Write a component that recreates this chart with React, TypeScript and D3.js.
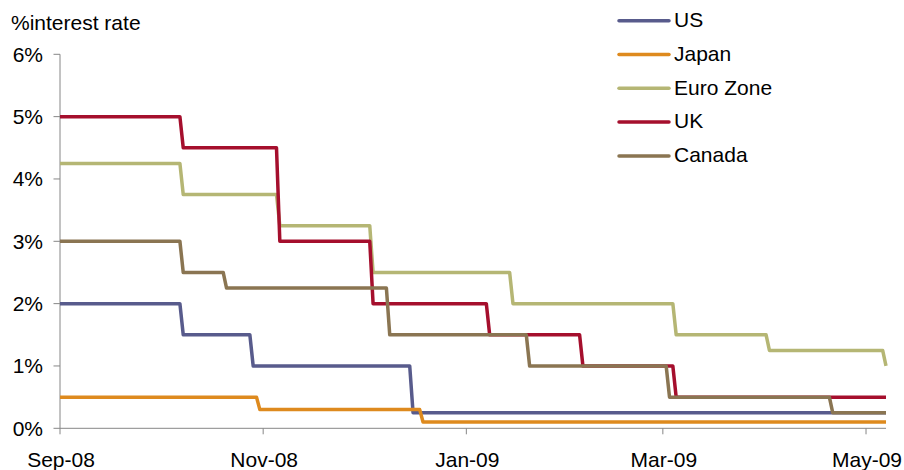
import React from "react";
import * as d3 from "d3";

// Policy-rate changes (announcement dates) and the rate in force before/after each one
const usDates = ["2008-10-08", "2008-10-29", "2008-12-16"];
const usRates = [2.0, 1.5, 1.0, 0.25];

const japanDates = ["2008-10-31", "2008-12-19"];
const japanRates = [0.5, 0.3, 0.1];

const euroDates = ["2008-10-08", "2008-11-06", "2008-12-04", "2009-01-15", "2009-03-05", "2009-04-02", "2009-05-07"];
const euroRates = [4.25, 3.75, 3.25, 2.5, 2.0, 1.5, 1.25, 1.0];

const ukDates = ["2008-10-08", "2008-11-06", "2008-12-04", "2009-01-08", "2009-02-05", "2009-03-05"];
const ukRates = [5.0, 4.5, 3.0, 2.0, 1.5, 1.0, 0.5];

const canadaDates = ["2008-10-08", "2008-10-21", "2008-12-09", "2009-01-20", "2009-03-03", "2009-04-21"];
const canadaRates = [3.0, 2.5, 2.25, 1.5, 1.0, 0.5, 0.25];

const seriesNames = ["US", "Japan", "Euro Zone", "UK", "Canada"];
const seriesColors = ["#585b8c", "#de8a1e", "#b5b674", "#a50f2d", "#8a7552"];

const startDate = "2008-09-01";
const endDate = "2009-05-07";

const xTickDates = ["2008-09-01", "2008-11-01", "2009-01-01", "2009-03-01", "2009-05-01"];
const xTickLabels = ["Sep-08", "Nov-08", "Jan-09", "Mar-09", "May-09"];
const yTicks = [0, 1, 2, 3, 4, 5, 6];

const DAY = 86400000;
const parse = (s: string) => new Date(s + "T00:00:00Z");

// Turn a list of rate changes into step-line vertices (each change takes one day)
function stepPoints(dates: string[], rates: number[]): [Date, number][] {
  const pts: [Date, number][] = [[parse(startDate), rates[0]]];
  dates.forEach((d, i) => {
    const t = parse(d);
    pts.push([new Date(t.getTime() - DAY), rates[i]]);
    pts.push([t, rates[i + 1]]);
  });
  const end = parse(endDate);
  const last = pts[pts.length - 1];
  if (last[0].getTime() < end.getTime()) pts.push([end, rates[rates.length - 1]]);
  return pts;
}

export default function App() {
  const width = 904;
  const height = 470;
  const font = "'Liberation Sans', Arial, sans-serif";
  const fs = 21;
  const axisColor = "#868686";

  const x = d3.scaleUtc().domain([parse(startDate), parse(endDate)]).range([60, 886]);
  const y = d3.scaleLinear().domain([0, 6]).range([428.3, 54.3]);

  const line = d3
    .line<[Date, number]>()
    .x((d) => x(d[0]))
    .y((d) => y(d[1]));

  const series = [
    stepPoints(usDates, usRates),
    stepPoints(japanDates, japanRates),
    stepPoints(euroDates, euroRates),
    stepPoints(ukDates, ukRates),
    stepPoints(canadaDates, canadaRates),
  ];

  const x0 = x(parse(startDate));
  const y0 = y(0);

  return (
    <svg
      width={width}
      height={height}
      style={{ position: "absolute", left: 0, top: 0, background: "#fff" }}
      fontFamily={font}
    >
      <text x={11} y={29.5} fontSize={fs} fill="#000">
        %interest rate
      </text>

      {/* y axis */}
      <line x1={x0} x2={x0} y1={y(6)} y2={y0} stroke={axisColor} strokeWidth={1} />
      {yTicks.map((t) => (
        <g key={t}>
          <line x1={x0 - 6.5} x2={x0} y1={y(t)} y2={y(t)} stroke={axisColor} strokeWidth={1} />
          <text x={43} y={y(t) + 7.5} fontSize={fs} textAnchor="end" fill="#000">
            {t}%
          </text>
        </g>
      ))}

      {/* x axis */}
      <line x1={x0} x2={x(parse(endDate))} y1={y0} y2={y0} stroke={axisColor} strokeWidth={1} />
      {xTickDates.map((d, i) => {
        const px = x(parse(d));
        return (
          <g key={d}>
            <line x1={px} x2={px} y1={y0} y2={y0 + 6} stroke={axisColor} strokeWidth={1} />
            <text x={px + 1} y={466.5} fontSize={fs} textAnchor="middle" fill="#000">
              {xTickLabels[i]}
            </text>
          </g>
        );
      })}

      {/* series */}
      {series.map((pts, i) => (
        <path
          key={seriesNames[i]}
          d={line(pts) || ""}
          fill="none"
          stroke={seriesColors[i]}
          strokeWidth={3.5}
          strokeLinejoin="round"
        />
      ))}

      {/* legend */}
      {seriesNames.map((name, i) => {
        const ly = 20.7 + i * 33.8;
        return (
          <g key={name}>
            <line x1={619} x2={669} y1={ly} y2={ly} stroke={seriesColors[i]} strokeWidth={3.5} strokeLinecap="round" />
            <text x={674} y={ly + 6.2} fontSize={fs} fill="#000">
              {name}
            </text>
          </g>
        );
      })}
    </svg>
  );
}
